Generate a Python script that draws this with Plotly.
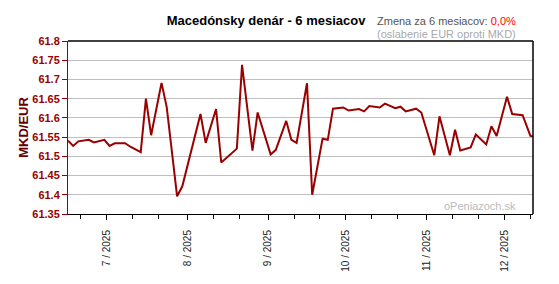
import plotly.graph_objects as go

dates = ["2025-06-16", "2025-06-18", "2025-06-20", "2025-06-24", "2025-06-26", "2025-06-30",
         "2025-07-02", "2025-07-04", "2025-07-08", "2025-07-10", "2025-07-14", "2025-07-16",
         "2025-07-18", "2025-07-22", "2025-07-24", "2025-07-28", "2025-07-30", "2025-08-06",
         "2025-08-08", "2025-08-12", "2025-08-14", "2025-08-20", "2025-08-22", "2025-08-26",
         "2025-08-28", "2025-09-02", "2025-09-04", "2025-09-08", "2025-09-10", "2025-09-12",
         "2025-09-16", "2025-09-18", "2025-09-22", "2025-09-24", "2025-09-26", "2025-09-30",
         "2025-10-02", "2025-10-06", "2025-10-08", "2025-10-10", "2025-10-14", "2025-10-16",
         "2025-10-20", "2025-10-22", "2025-10-24", "2025-10-28", "2025-10-30", "2025-11-04",
         "2025-11-06", "2025-11-10", "2025-11-12", "2025-11-14", "2025-11-18", "2025-11-20",
         "2025-11-24", "2025-11-26", "2025-11-28", "2025-12-02", "2025-12-04", "2025-12-08",
         "2025-12-11", "2025-12-12"]
rates = [61.541, 61.527, 61.539, 61.543, 61.536, 61.543,
         61.527, 61.534, 61.534, 61.525, 61.511, 61.650,
         61.555, 61.691, 61.628, 61.396, 61.422, 61.610,
         61.535, 61.623, 61.484, 61.520, 61.738, 61.515,
         61.614, 61.505, 61.517, 61.592, 61.543, 61.535,
         61.690, 61.400, 61.546, 61.543, 61.624, 61.627,
         61.619, 61.623, 61.617, 61.631, 61.627, 61.637,
         61.625, 61.629, 61.617, 61.624, 61.614, 61.503,
         61.604, 61.503, 61.569, 61.515, 61.523, 61.557,
         61.531, 61.578, 61.553, 61.655, 61.610, 61.607,
         61.553, 61.552]

month_ticks = ["2025-07-01", "2025-08-01", "2025-09-01", "2025-10-01", "2025-11-01", "2025-12-01"]
month_labels = ["7 / 2025", "8 / 2025", "9 / 2025", "10 / 2025", "11 / 2025", "12 / 2025"]
minor_ticks = ["2025-06-21", "2025-07-11", "2025-07-21", "2025-08-11", "2025-08-21",
               "2025-09-11", "2025-09-21", "2025-10-11", "2025-10-21", "2025-11-11",
               "2025-11-21", "2025-12-11"]

title_text = "Macedónsky denár - 6 mesiacov"
change_label = "Zmena za 6 mesiacov: "
change_value = "0,0%"
sub_label = "(oslabenie EUR oproti MKD)"
watermark = "oPeniazoch.sk"
y_title = "MKD/EUR"

FONT = "Arial, Liberation Sans, sans-serif"
RED = "#990000"

fig = go.Figure()
fig.add_trace(go.Scatter(x=dates, y=rates, mode="lines",
                         line=dict(color=RED, width=2), hoverinfo="skip"))

fig.update_layout(
    width=559, height=284,
    margin=dict(l=68, r=26, t=41, b=53),
    paper_bgcolor="white", plot_bgcolor="white",
    showlegend=False,
    font=dict(family=FONT),
    title=dict(text="<b>" + title_text + "</b>", x=0.476, xanchor="center",
               y=1 - 20 / 284, yanchor="middle",
               font=dict(family=FONT, size=13, color="#000000")),
    xaxis=dict(
        type="date", range=["2025-06-16", "2025-12-12"],
        tickmode="array", tickvals=month_ticks, ticktext=month_labels,
        tickangle=-90, ticks="outside", ticklen=5, tickcolor="#000000",
        ticklabelstandoff=6,
        tickfont=dict(family=FONT, size=10, color="#222222"),
        showgrid=False, zeroline=False,
        showline=True, linecolor="#000000", linewidth=1,
        minor=dict(tickmode="array", tickvals=minor_ticks, ticks="outside",
                   ticklen=4, tickcolor="#000000", showgrid=False),
    ),
    yaxis=dict(
        range=[61.35, 61.8], tick0=61.35, dtick=0.05,
        ticks="outside", ticklen=5, tickcolor=RED,
        tickfont=dict(family=FONT, size=11, color=RED, weight="bold"),
        showgrid=True, gridcolor="#c0c0c0", gridwidth=1,
        zeroline=False, showline=True, linecolor=RED, linewidth=1,
        title=dict(text="<b>" + y_title + "</b>", standoff=0,
                   font=dict(family=FONT, size=13, color="#660000")),
    ),
)

# top and right frame lines
fig.add_shape(type="line", xref="paper", yref="paper", x0=0, x1=1, y0=1, y1=1,
              line=dict(color="#000000", width=1.5))
fig.add_shape(type="line", xref="paper", yref="paper", x0=1, x1=1, y0=0, y1=1,
              line=dict(color="#000000", width=1.5))

fig.add_annotation(xref="paper", yref="paper", x=0.968, y=(231 - 19.5) / 190,
                   xanchor="right", yanchor="middle", showarrow=False,
                   text=change_label + "<span style='color:#ff0000'>" + change_value + "</span>",
                   font=dict(family=FONT, size=11, color="#555555"))
fig.add_annotation(xref="paper", yref="paper", x=0.968, y=(231 - 33) / 190,
                   xanchor="right", yanchor="middle", showarrow=False,
                   text=sub_label, font=dict(family=FONT, size=11, color="#aaaaaa"))
fig.add_annotation(xref="paper", yref="paper", x=0.968, y=(231 - 222) / 190,
                   xanchor="right", yanchor="middle", showarrow=False,
                   text=watermark, font=dict(family=FONT, size=11, color="#bbbbbb"))

fig.write_html("out.html")
